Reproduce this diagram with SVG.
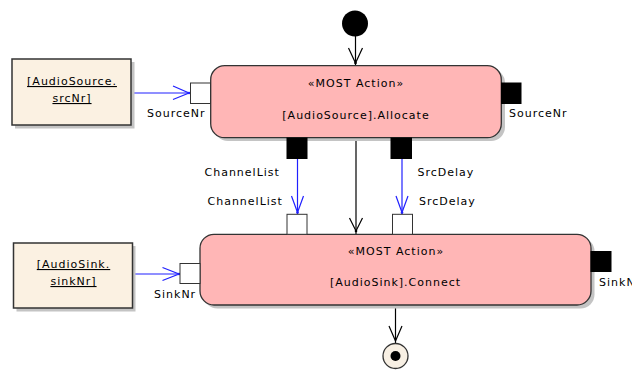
<svg xmlns="http://www.w3.org/2000/svg" width="632" height="372" viewBox="0 0 632 372">
<style>
text{font-family:"DejaVu Sans","Liberation Sans",sans-serif;font-size:11px;letter-spacing:1px;fill:#000}
.mid{text-anchor:middle}
.act{fill:#FFB6B6;stroke:#333;stroke-width:1.3}
.obj{fill:#FBF1E2;stroke:#333;stroke-width:1.5}
.sh{fill:#C4C4C4}
.pin{fill:#fff;stroke:#333;stroke-width:1}
.opin{fill:#000;stroke:#000;stroke-width:1}
.blue{stroke:#2020FF;stroke-width:1.2;fill:none}
.blk{stroke:#000;stroke-width:1.2;fill:none}
.u{text-decoration:underline}
</style>
<g id="connectors">
  <path class="blk" d="M355.5 36 V65"/>
  <path class="blk" d="M348.5 48 L355.5 63 L362.5 48"/>
  <circle cx="355.5" cy="63" r="1.3" fill="#000"/>
  <path class="blk" d="M356 138 V234"/>
  <path class="blk" d="M349.5 218 L356 231 L362.5 218"/>
  <circle cx="356" cy="231" r="1.3" fill="#000"/>
  <path class="blk" d="M395.5 305 V343"/>
  <path class="blk" d="M389 326 L395.5 341 L402 326"/>
  <path class="blue" d="M131 93 H190"/>
  <path class="blue" d="M173 86 L189 93 L173 99.5"/>
  <circle cx="189" cy="93" r="1.3" fill="#2020FF"/>
  <path class="blue" d="M132.5 274 H180"/>
  <path class="blue" d="M162.5 267.5 L179 274 L162.5 280.5"/>
  <circle cx="179" cy="274" r="1.3" fill="#2020FF"/>
  <path class="blue" d="M297.5 159 V214"/>
  <path class="blue" d="M291.5 196 L297.5 212.5 L303.5 196"/>
  <circle cx="297.5" cy="212.5" r="1.3" fill="#2020FF"/>
  <path class="blue" d="M402 159 V214"/>
  <path class="blue" d="M396 196 L402 212.5 L408 196"/>
  <circle cx="402" cy="212.5" r="1.3" fill="#2020FF"/>
</g>
<g id="initial">
  <circle cx="355" cy="23.5" r="13" fill="#000"/>
</g>
<g id="final">
  <circle cx="395.5" cy="356" r="12.5" fill="#F8F0E4" stroke="#333" stroke-width="1.3"/>
  <circle cx="395.5" cy="356" r="5" fill="#000"/>
</g>
<g id="srcObj">
  <rect class="sh" x="15" y="62" width="119.5" height="66.5"/>
  <rect class="obj" x="12" y="59" width="119" height="66"/>
  <text class="mid u" x="72" y="85">[AudioSource.</text>
  <text class="mid u" x="72" y="102">srcNr]</text>
</g>
<g id="sinkObj">
  <rect class="sh" x="16.5" y="246" width="119" height="65.5"/>
  <rect class="obj" x="13.5" y="243" width="119" height="65"/>
  <text class="mid u" x="73.5" y="268">[AudioSink.</text>
  <text class="mid u" x="73.5" y="285">sinkNr]</text>
</g>
<g id="allocate">
  <rect class="sh" x="214" y="69" width="291" height="72" rx="14"/>
  <rect class="act" x="210.7" y="65.7" width="290.6" height="72" rx="14"/>
  <text class="mid" x="356" y="87">«MOST Action»</text>
  <text class="mid" x="356" y="119">[AudioSource].Allocate</text>
  <rect class="pin" x="190.5" y="83" width="20" height="20.5"/>
  <text x="147" y="117">SourceNr</text>
  <rect class="opin" x="501.5" y="83" width="19.5" height="20.5"/>
  <text x="509" y="117">SourceNr</text>
  <rect class="opin" x="287" y="138" width="20" height="20.5"/>
  <text x="204.5" y="176">ChannelList</text>
  <rect class="opin" x="391" y="138" width="20.5" height="20.5"/>
  <text x="417.5" y="176">SrcDelay</text>
</g>
<g id="connect">
  <rect class="sh" x="203.5" y="237.5" width="391" height="71" rx="14"/>
  <rect class="act" x="200" y="234.3" width="391" height="70.7" rx="14"/>
  <text class="mid" x="396" y="255">«MOST Action»</text>
  <text class="mid" x="395.5" y="286">[AudioSink].Connect</text>
  <rect class="pin" x="180" y="263.5" width="20" height="20"/>
  <text x="154" y="298">SinkNr</text>
  <rect class="opin" x="591" y="251.5" width="20" height="20"/>
  <text x="599" y="286">SinkNr</text>
  <rect class="pin" x="287" y="214.3" width="20" height="20"/>
  <text x="207.5" y="205">ChannelList</text>
  <rect class="pin" x="392.5" y="214.3" width="20" height="20"/>
  <text x="419" y="205">SrcDelay</text>
</g>
</svg>
